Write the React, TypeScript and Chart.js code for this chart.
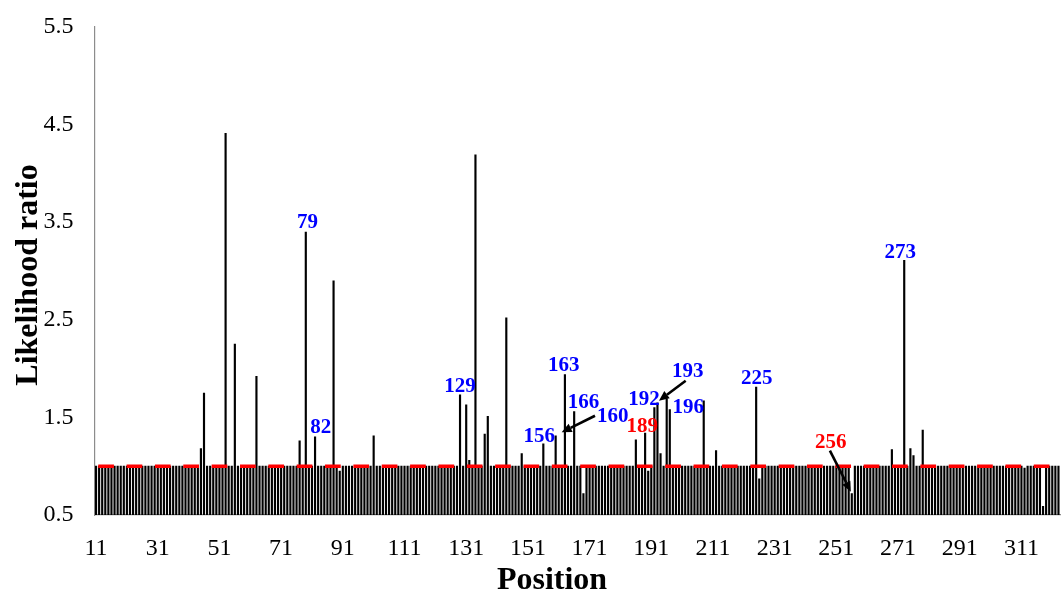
import React, { useEffect, useRef } from 'react';
import { Chart, registerables } from 'chart.js';

Chart.register(...registerables);

// Likelihood ratio per sequence position, starting at position 11 (one row = 10 positions)
const FIRST_POSITION = 11;
const LR_VALUES: number[] = [
  /* 11 */ 1, 1, 1, 1, 1, 1, 1, 1, 1, 1,
  /* 21 */ 1, 1, 1, 1, 1, 1, 1, 1, 1, 1,
  /* 31 */ 1, 1, 1, 1, 1, 1, 1, 1, 1, 1,
  /* 41 */ 1, 1, 1, 1, 1.18, 1.75, 1, 1, 1, 1,
  /* 51 */ 1, 1, 4.41, 1, 1, 2.25, 1, 1, 1, 1,
  /* 61 */ 1, 1, 1.92, 1, 1, 1, 1, 1, 1, 1,
  /* 71 */ 1, 1, 1, 1, 1, 1, 1.26, 1, 3.4, 1,
  /* 81 */ 1, 1.3, 1, 1, 1, 1, 1, 2.9, 1, 0.95,
  /* 91 */ 1, 1, 1, 1, 1, 1, 1, 1, 1, 1,
  /* 101 */ 1.31, 1, 1, 1, 1, 1, 1, 1, 1, 1,
  /* 111 */ 1, 1, 1, 1, 1, 1, 1, 1, 1, 1,
  /* 121 */ 1, 1, 1, 1, 1, 1, 1, 1, 1.73, 1,
  /* 131 */ 1.63, 1.06, 1, 4.19, 1, 1, 1.33, 1.51, 1, 1,
  /* 141 */ 1, 1, 1, 2.52, 1, 1, 1, 1, 1.13, 1,
  /* 151 */ 1, 1, 1, 1, 1, 1.23, 1, 1, 1, 1.31,
  /* 161 */ 1, 1, 1.94, 1, 1, 1.56, 1, 1, 0.72, 1,
  /* 171 */ 1, 1, 1, 1, 1, 1, 1, 1, 1, 1,
  /* 181 */ 1, 1, 1, 1, 1, 1.27, 1, 1, 1.34, 0.95,
  /* 191 */ 1, 1.6, 1.65, 1.13, 1, 1.69, 1.58, 1, 1, 1,
  /* 201 */ 1, 1, 1, 1, 1, 1, 1, 1.67, 1, 1,
  /* 211 */ 1, 1.16, 1, 1, 1, 1, 1, 1, 1, 1,
  /* 221 */ 1, 1, 1, 1, 1.81, 0.87, 1, 1, 1, 1,
  /* 231 */ 1, 1, 1, 1, 1, 1, 1, 1, 1, 1,
  /* 241 */ 1, 1, 1, 1, 1, 1, 1, 1, 1, 1,
  /* 251 */ 1, 1, 1, 1, 1, 0.72, 1, 1, 1, 1,
  /* 261 */ 1, 1, 1, 1, 1, 1, 1, 1, 1.17, 1,
  /* 271 */ 1, 1, 3.11, 1, 1.18, 1.11, 1, 1, 1.37, 1,
  /* 281 */ 1, 1, 1, 1, 1, 1, 1, 1, 1, 1,
  /* 291 */ 1, 1, 1, 1, 1, 1, 1, 1, 1, 1,
  /* 301 */ 1, 1, 1, 1, 1, 1, 1, 1, 1, 1,
  /* 311 */ 1, 0.98, 1, 1, 1, 1, 1, 0.59, 1, 1,
  /* 321 */ 1, 1, 1,
];
const POSITIONS: string[] = LR_VALUES.map((_, i) => String(FIRST_POSITION + i));

const X_TICK_LABELS = ['11', '31', '51', '71', '91', '111', '131', '151', '171', '191', '211', '231', '251', '271', '291', '311'];
const Y_TICKS = [0.5, 1.5, 2.5, 3.5, 4.5, 5.5];
const THRESHOLD = 1.0;

// Annotation labels (position on x, likelihood ratio on y)
const ANNOT_TEXT = ['79', '82', '129', '156', '163', '166', '160', '189', '192', '193', '196', '225', '256', '273'];
const ANNOT_X = [79.56, 83.87, 129.0, 154.7, 162.6, 169.0, 178.5, 188.1, 188.6, 202.8, 203.0, 225.2, 249.2, 271.7];
const ANNOT_Y = [3.514, 1.414, 1.834, 1.317, 2.05, 1.665, 1.528, 1.425, 1.696, 1.983, 1.617, 1.917, 1.263, 3.207];
const ANNOT_COLOR = ['#0000ff', '#0000ff', '#0000ff', '#0000ff', '#0000ff', '#0000ff', '#0000ff', '#ff0000', '#0000ff', '#0000ff', '#0000ff', '#0000ff', '#ff0000', '#0000ff'];

// Arrows: from (x, y) to tip (x, y)
const ARROW_FROM_X = [172.75, 202.15, 248.9];
const ARROW_FROM_Y = [1.517, 1.876, 1.159];
const ARROW_TO_X = [161.95, 193.5, 255.7];
const ARROW_TO_Y = [1.347, 1.671, 0.739];

const SERIF = '"Liberation Serif", "Times New Roman", Times, serif';

const overlayPlugin = {
  id: 'overlay',
  afterDatasetsDraw(chart: any) {
    const { ctx, chartArea, scales } = chart;
    const xs = scales.x;
    const ys = scales.y;
    const px = (pos: number) => xs.getPixelForValue(pos - FIRST_POSITION);

    // dashed threshold line
    ctx.save();
    ctx.beginPath();
    ctx.rect(chartArea.left, chartArea.top, chartArea.right - chartArea.left, chartArea.bottom - chartArea.top);
    ctx.clip();
    const yT = ys.getPixelForValue(THRESHOLD);
    ctx.strokeStyle = '#ff0000';
    ctx.lineWidth = 3.6;
    ctx.setLineDash([15.7, 12.65]);
    ctx.beginPath();
    ctx.moveTo(px(FIRST_POSITION) + 2.2, yT);
    ctx.lineTo(chartArea.right, yT);
    ctx.stroke();
    ctx.restore();

    // arrows
    ctx.save();
    ctx.strokeStyle = '#000';
    ctx.fillStyle = '#000';
    ctx.lineWidth = 2.6;
    for (let i = 0; i < ARROW_FROM_X.length; i++) {
      const x1 = px(ARROW_FROM_X[i]);
      const y1 = ys.getPixelForValue(ARROW_FROM_Y[i]);
      const x2 = px(ARROW_TO_X[i]);
      const y2 = ys.getPixelForValue(ARROW_TO_Y[i]);
      const ang = Math.atan2(y2 - y1, x2 - x1);
      const headLen = 10;
      const headW = 4.5;
      const bx = x2 - headLen * Math.cos(ang);
      const by = y2 - headLen * Math.sin(ang);
      ctx.beginPath();
      ctx.moveTo(x1, y1);
      ctx.lineTo(bx, by);
      ctx.stroke();
      ctx.beginPath();
      ctx.moveTo(x2, y2);
      ctx.lineTo(bx + headW * Math.sin(ang), by - headW * Math.cos(ang));
      ctx.lineTo(bx - headW * Math.sin(ang), by + headW * Math.cos(ang));
      ctx.closePath();
      ctx.fill();
    }
    ctx.restore();

    // labels
    ctx.save();
    const fs = 21;
    ctx.font = `bold ${fs}px ${SERIF}`;
    ctx.textAlign = 'center';
    ctx.textBaseline = 'alphabetic';
    for (let i = 0; i < ANNOT_TEXT.length; i++) {
      ctx.fillStyle = ANNOT_COLOR[i];
      ctx.fillText(ANNOT_TEXT[i], px(ANNOT_X[i]), ys.getPixelForValue(ANNOT_Y[i]) + 0.338 * fs);
    }
    ctx.restore();

    // axis titles
    ctx.save();
    ctx.fillStyle = '#000';
    ctx.font = `bold 32px ${SERIF}`;
    ctx.textAlign = 'center';
    ctx.textBaseline = 'alphabetic';
    ctx.fillText('Position', 552, 589);
    ctx.translate(37, 275);
    ctx.rotate(-Math.PI / 2);
    ctx.fillText('Likelihood ratio', 0, 0);
    ctx.restore();
  },
};

const zeroPadding = (scale: any) => {
  scale.paddingLeft = 0;
  scale.paddingRight = 0;
  scale.paddingTop = 0;
  scale.paddingBottom = 0;
};

export default function App() {
  const canvasRef = useRef<HTMLCanvasElement | null>(null);

  useEffect(() => {
    if (!canvasRef.current) return;
    const chart = new Chart(canvasRef.current, {
      type: 'bar',
      data: {
        labels: POSITIONS,
        datasets: [
          {
            label: 'Likelihood ratio',
            data: LR_VALUES,
            backgroundColor: '#000000',
            borderWidth: 0,
            barThickness: 1.5,
          },
        ],
      },
      options: {
        animation: false,
        responsive: true,
        maintainAspectRatio: false,
        devicePixelRatio: 1,
        layout: { padding: { top: 27, right: 2, bottom: 0, left: 0 } },
        plugins: {
          legend: { display: false },
          tooltip: { enabled: false },
          title: { display: false },
        },
        scales: {
          x: {
            type: 'category',
            offset: true,
            grid: { display: false, drawTicks: false },
            border: { display: true, color: '#8c8c8c', width: 1.2 },
            ticks: {
              autoSkip: false,
              maxRotation: 0,
              minRotation: 0,
              padding: 19,
              color: '#000',
              font: { family: SERIF, size: 24 },
              callback: (_v: any, idx: number) => (X_TICK_LABELS.includes(POSITIONS[idx]) ? POSITIONS[idx] : ''),
            },
            afterFit: (scale: any) => {
              scale.height = 78;
              zeroPadding(scale);
            },
          },
          y: {
            min: 0.5,
            max: 5.5,
            grid: { display: false, drawTicks: false },
            border: { display: true, color: '#8c8c8c', width: 1.2 },
            afterBuildTicks: (scale: any) => {
              scale.ticks = Y_TICKS.map((v) => ({ value: v }));
            },
            ticks: {
              padding: 21,
              color: '#000',
              font: { family: SERIF, size: 24 },
              callback: (v: any) => Number(v).toFixed(1),
            },
            afterFit: (scale: any) => {
              scale.width = 94.5;
              zeroPadding(scale);
            },
          },
        },
      },
      plugins: [overlayPlugin],
    });
    return () => chart.destroy();
  }, []);

  return (
    <div style={{ position: 'absolute', left: 0, top: 0, width: 1062, height: 593, background: '#fff' }}>
      <canvas ref={canvasRef} />
    </div>
  );
}
